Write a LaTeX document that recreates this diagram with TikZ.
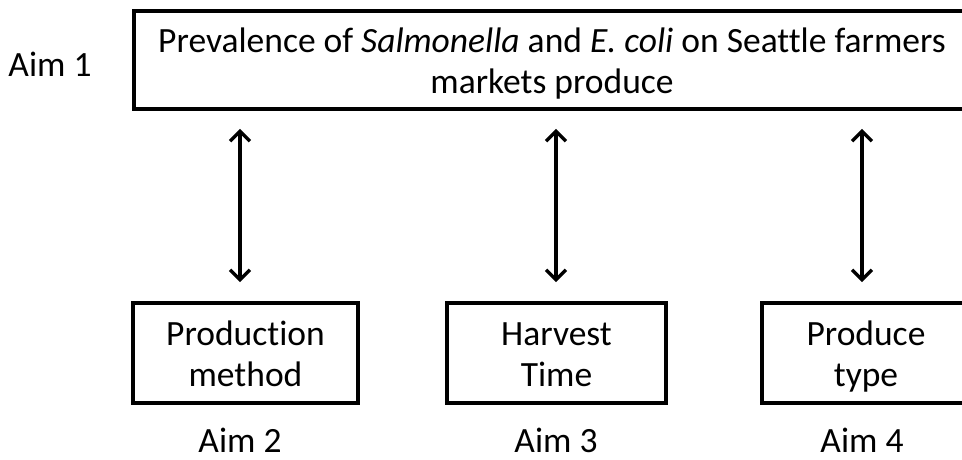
\documentclass[tikz,border=0pt]{standalone}
\usepackage{fontspec}
\setmainfont{Carlito}[Ligatures={NoCommon,NoContextual}]
\usetikzlibrary{arrows.meta,positioning}
% two lines with fixed baselines inside a box
\newcommand{\twolines}[2]{\rule{0pt}{35pt}#1\\#2\rule[-9pt]{0pt}{9pt}}

\begin{document}
\begin{tikzpicture}[x=1pt,y=-1pt,
    aimbox/.style={rectangle,draw=black,line width=3.6pt,align=center,
                   minimum height=100pt,inner sep=0pt,
                   font=\fontsize{35.5}{41}\selectfont},
    aimlbl/.style={anchor=base,font=\fontsize{35.5}{41}\selectfont},
    linkarrow/.style={{Straight Barb[length=10pt,width=20pt]}-{Straight Barb[length=10pt,width=20pt]},
                      line width=3.4pt,shorten <=19pt,shorten >=18pt}
  ]
  \useasboundingbox (0,0) rectangle (962,459);
  % Aim 1
  \node[aimlbl] (aim1) at (50,76) {Aim 1};
  \node[aimbox,minimum width=836pt,minimum height=98pt] (prevbox) at (552,60)
    {\twolines{Prevalence of \textit{Salmonella} and \textit{E. coli} on Seattle farmers}{markets produce}};
  % Aims 2-4
  \node[aimbox,minimum width=225pt] (prodbox) at (245.5,353) {\twolines{Production}{method}};
  \node[aimbox,minimum width=219pt] (harvbox) at (556.5,353) {\twolines{Harvest}{Time}};
  \node[aimbox,minimum width=208pt] (typebox) at (866,353) {\twolines{Produce}{type}};
  \node[aimlbl] (aim2) at (240,452) {Aim 2};
  \node[aimlbl] (aim3) at (556,452) {Aim 3};
  \node[aimlbl] (aim4) at (862,452) {Aim 4};
  % links
  \draw[linkarrow] (aim2.north |- prodbox.north) -- (aim2.north |- prevbox.south);
  \draw[linkarrow] (aim3.north |- harvbox.north) -- (aim3.north |- prevbox.south);
  \draw[linkarrow] (aim4.north |- typebox.north) -- (aim4.north |- prevbox.south);
\end{tikzpicture}
\end{document}
